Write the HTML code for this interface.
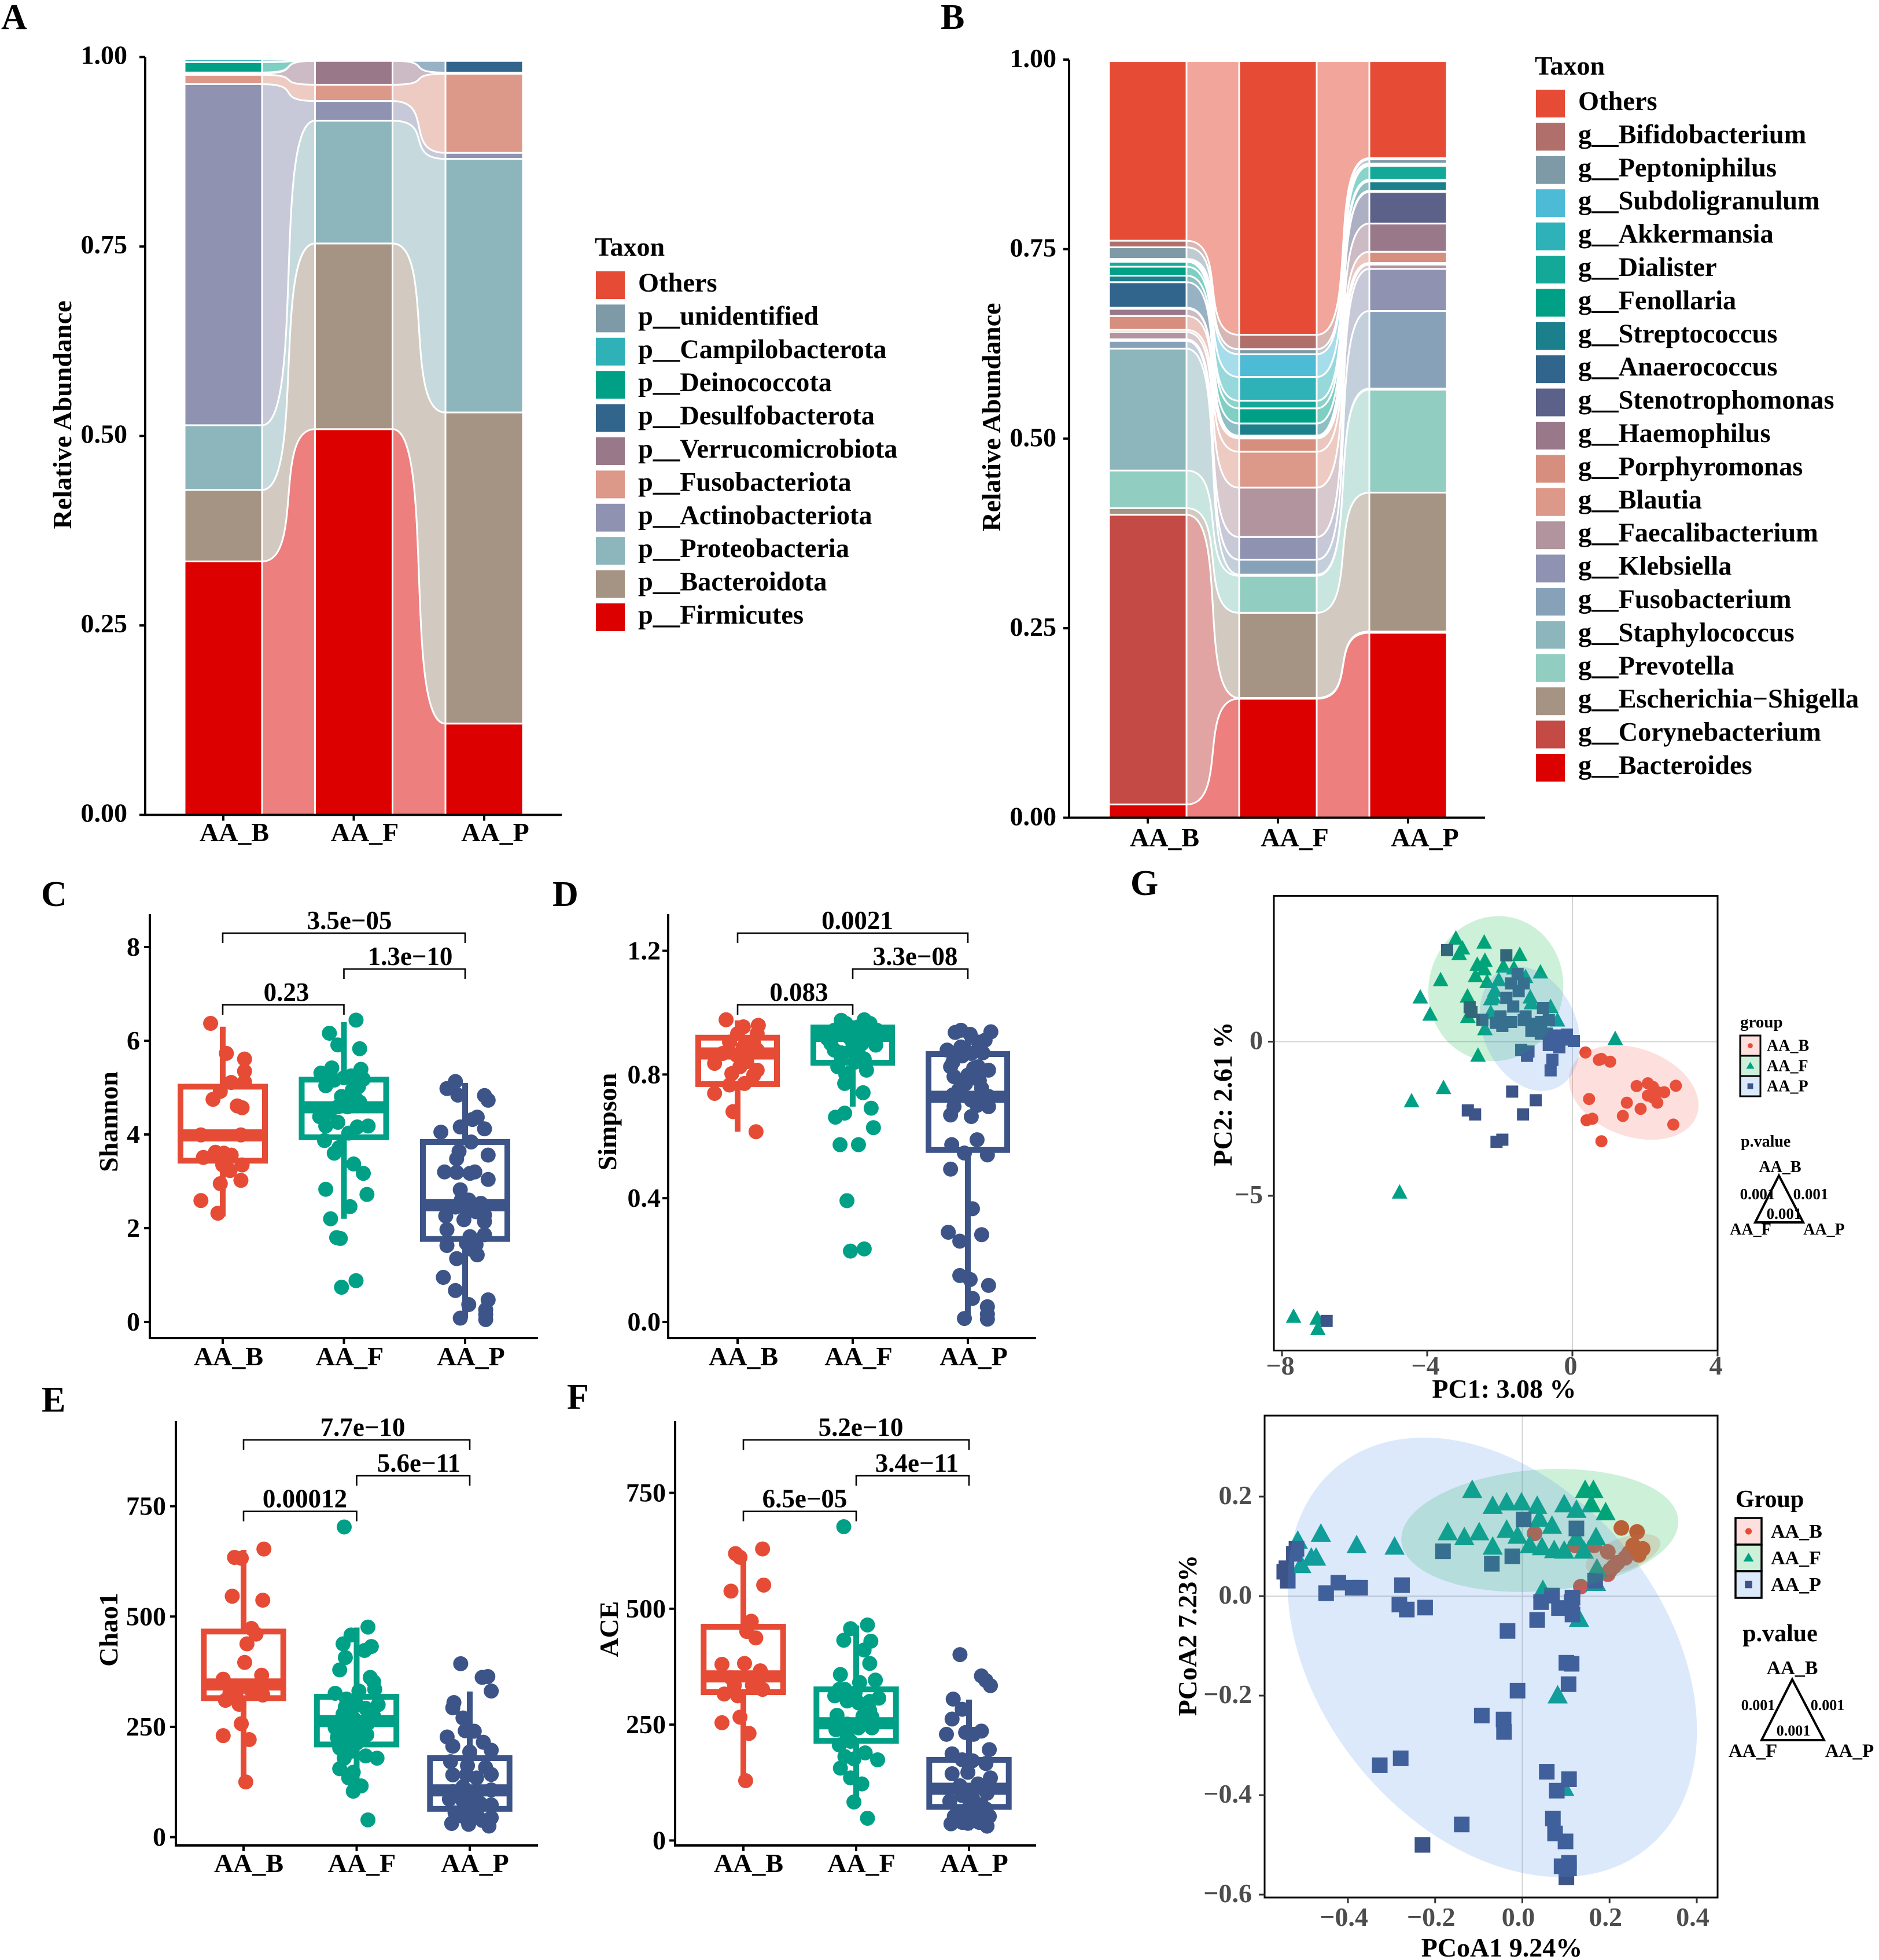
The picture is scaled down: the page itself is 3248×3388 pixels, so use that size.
<!DOCTYPE html>
<html lang="en">
<head>
<meta charset="utf-8">
<title>Microbiome composition and diversity panels</title>
<style>
html,body{margin:0;padding:0;background:#fff;}
svg{display:block;font-family:"Liberation Serif","Noto Serif CJK SC",serif;font-weight:bold;}
</style>
</head>
<body>
<svg id="figure" xmlns="http://www.w3.org/2000/svg" width="3248" height="3388" viewBox="0 0 3248 3388">
  <rect width="3248" height="3388" fill="#fff"/>
  <g font-size="62" fill="#000">
    <text x="2" y="50">A</text>
    <text x="1626" y="50">B</text>
    <text x="71" y="1566">C</text>
    <text x="955" y="1566">D</text>
    <text x="72" y="2440">E</text>
    <text x="980" y="2435">F</text>
    <text x="1954" y="1547">G</text>
  </g>
  <g id="panelA"></g>
  <g id="panelB"></g>
  <g id="panelC"></g>
  <g id="panelD"></g>
  <g id="panelE"></g>
  <g id="panelF"></g>
  <g id="panelG1"></g>
  <g id="panelG2"></g>
</svg>
<script>
/* ---------- shared categories ---------- */
const groups = ["AA_B", "AA_F", "AA_P"];
const relTicks = [0, 0.25, 0.5, 0.75, 1];
const relTickLabels = ["0.00", "0.25", "0.50", "0.75", "1.00"];

/* ---------- panel A: phylum abundance (bottom of stack first) ---------- */
const phylumTaxa = ["p__Firmicutes","p__Bacteroidota","p__Proteobacteria","p__Actinobacteriota","p__Fusobacteriota","p__Verrucomicrobiota","p__Desulfobacterota","p__Deinococcota","p__Campilobacterota","p__unidentified","Others"];
const phylumColors = ["#DC0000","#A59383","#8DB6BC","#8F93B1","#DC9888","#99788A","#32658C","#00A087","#2FB1B8","#7E9AA6","#E64B35"];
const phylumAAB = [.3345,.0943,.0854,.45,.0124,.002,.001,.0138,.0036,.001,.001];
const phylumAAF = [.509,.245,.162,.026,.0215,.0315,0,0,0,.001,.001];
const phylumAAP = [.1205,.4105,.3346,.008,.1044,.0015,.0155,0,0,.001,.001];

/* ---------- panel B: genus abundance (bottom of stack first) ---------- */
const genusTaxa = ["g__Bacteroides","g__Corynebacterium","g__Escherichia\u2212Shigella","g__Prevotella","g__Staphylococcus","g__Fusobacterium","g__Klebsiella","g__Faecalibacterium","g__Blautia","g__Porphyromonas","g__Haemophilus","g__Stenotrophomonas","g__Anaerococcus","g__Streptococcus","g__Fenollaria","g__Dialister","g__Akkermansia","g__Subdoligranulum","g__Peptoniphilus","g__Bifidobacterium","Others"];
const genusColors = ["#DC0000","#C44A45","#A59383","#91CDC0","#8DB6BC","#87A2B8","#8F93B1","#B1949D","#DC9888","#D68E7E","#99788A","#5B6188","#32658C","#1B7F8C","#00A087","#14A898","#2FB1B8","#4DBBD5","#7E9AA6","#B06F6A","#E64B35"];
const genusAAB = [.0175,.3821,.0087,.0497,.1607,.0103,.002,.0096,.0029,.0183,.0095,.0014,.0337,.0086,.0118,.0066,.0022,.0014,.0154,.0087,.2369];
const genusAAF = [.157,.001,.1123,.0489,.0015,.0197,.0299,.0651,.0474,.0176,.001,.001,.0016,.016,.02,.01,.0314,.03,.0066,.019,.361];
const genusAAP = [.244,.0016,.1832,.1358,.0014,.1024,.0555,.0058,.002,.0148,.0373,.0416,.0015,.0124,.0022,.0182,.0015,.0015,.0058,.0015,.128];

/* ---------- panel C: Shannon ---------- */
const shannonTicks = [0, 2, 4, 6, 8];
const shannonBox = [[3.44,3.98,5.02,2.25,6.3],[3.94,4.58,5.17,2.2,6.4],[1.77,2.49,3.84,0.08,5.1]];
const shannonB = [6.37,5.73,5.61,5.35,5.11,5.12,4.92,4.75,4.61,4.57,3.99,3.99,3.51,3.62,3.56,3.6,3.35,3.23,3.35,2.95,3.02,2.59,2.32];
const shannonBJitter = [-.10,.03,.18,.18,.07,.18,-.02,-.08,.12,.16,-.18,.15,-.16,-.06,.07,.01,0,.06,.16,-.02,.15,-.18,-.04];
const shannonF = [6.44,6.16,5.91,5.83,5.31,5.42,5.39,5.04,5.02,5.21,5.18,4.81,4.69,4.59,4.38,4.51,4.26,4.18,4.59,4.18,4.16,4.03,3.87,3.6,3.72,3.37,3.17,2.83,2.72,2.46,2.2,1.8,1.78,.88,.74,4.47,4.72,4.95,5.16,4.8,5.25,5.25];
const shannonFJitter = [.10,-.12,-.05,.13,-.19,-.1,.14,-.15,.12,0,.16,-.02,.13,.03,-.2,-.13,-.05,-.15,-.05,.2,.11,.04,-.16,-.08,-.04,.08,.16,-.15,.19,.05,-.11,-.06,-.03,.1,-.02,-.12,0,.07,-.08,.09,-.15,.06];
const shannonP = [5.13,4.98,4.84,4.05,4.16,4.32,3.64,3.48,3.2,3.19,3.17,2.82,2.61,2.26,2.18,1.97,1.63,1.35,.95,.67,.08,4.83,4.73,4.37,4.12,3.84,3.56,3.2,3.04,2.53,2.39,2.28,2.14,1.82,1.86,1.68,1.43,.47,.37,.26,.05,.16,2.46,2.6,2.5,2.35,2.45,1.75,1.65,1.55];
const shannonPJitter = [-.08,-.15,-.06,-.2,-.04,.06,-.05,-.07,-.17,-.07,.04,-.04,-.03,-.16,-.01,-.15,-.15,-.07,-.18,-.08,-.04,.16,.19,.1,.16,.05,.19,.08,.19,.13,.01,.16,.16,.04,.16,.01,.1,.19,.03,.17,.17,.17,.1,.03,.06,.09,-.08,.06,.09,.05];
const shannonP_values = ["3.5e\u221205","1.3e\u221210","0.23"];

/* ---------- panel D: Simpson ---------- */
const simpsonTicks = [0, 0.4, 0.8, 1.2];
const simpsonTickLabels = ["0.0", "0.4", "0.8", "1.2"];
const simpsonBox = [[.769,.868,.919,.615,.975],[.838,.925,.952,.696,.975],[.556,.728,.866,.01,.943]];
const simpsonB = [.977,.954,.959,.932,.932,.905,.9,.889,.879,.868,.863,.836,.825,.814,.803,.798,.739,.766,.771,.68,.615,.841];
const simpsonBJitter = [-.1,.05,.18,0,.17,-.07,.14,.05,.17,-.13,-.01,-.2,.02,.17,-.05,.14,-.2,-.07,.06,-.04,.16,.08];
const simpsonF = [.975,.977,.965,.965,.943,.943,.943,.9,.911,.895,.879,.868,.857,.879,.825,.814,.803,.771,.741,.675,.691,.662,.628,.573,.573,.392,.236,.229,.916,.927,.927,.954,.95,.92,.9,.87,.85,.84,.8];
const simpsonFJitter = [-.1,.1,-.06,.15,-.16,-.01,.21,-.19,-.01,.2,-.16,.05,-.1,-.01,-.13,.12,-.04,-.07,.09,-.07,.16,-.15,.18,-.11,.05,-.05,.1,-.02,-.22,-.04,.12,.05,.03,-.03,.08,-.1,.1,.02,-.06];
const simpsonP = [.936,.943,.938,.905,.889,.879,.911,.868,.825,.825,.814,.793,.798,.755,.734,.717,.696,.669,.664,.573,.589,.54,.546,.494,.366,.29,.282,.261,.15,.137,.118,.076,.049,.025,.011,.009,.696,.729,.86,.82,.78,.75,.72,.84,.93,.87,.77,.7];
const simpsonPJitter = [-.11,-.06,.2,.09,-.06,-.18,.15,.03,-.15,.09,.18,-.12,0,.12,-.13,.03,.18,-.15,.03,-.14,.08,.17,-.03,-.15,.04,-.17,.12,-.07,-.07,.02,.18,.04,.17,.17,-.03,.17,-.12,.18,-.05,.05,.1,-.08,.12,-.13,.02,.13,-.02,.08];
const simpsonP_values = ["0.0021","3.3e\u221208","0.083"];

/* ---------- panel E: Chao1 ---------- */
const chaoTicks = [0, 250, 500, 750];
const chaoBox = [[315,346,466,125,651],[210,263,318,104,475],[64,106,179,25,330]];
const chaoB = [653,634,632,546,537,473,460,438,396,358,367,331,310,301,322,335,257,230,221,125,327,330];
const chaoBJitter = [.18,-.08,-.02,-.1,.17,.07,.11,.03,.01,-.18,.16,-.06,-.16,-.04,.17,.06,-.02,-.18,.05,.02,-.12,.13];
const chaoF = [703,476,458,438,432,423,407,379,362,352,335,326,331,313,300,295,300,292,274,270,261,265,248,248,232,234,226,222,213,202,195,184,179,179,155,147,134,116,104,39,248,279,258];
const chaoFJitter = [-.11,.1,-.05,-.12,.13,.07,-.1,-.15,.12,.15,.16,-.19,.02,-.09,.19,-.1,0,.08,.15,-.03,.05,-.09,-.19,-.05,.09,.02,-.17,-.09,0,-.15,-.04,.08,-.11,.18,-.15,-.03,-.07,.04,-.03,.1,-.12,-.12,.1];
const chaoP = [393,362,364,331,305,293,270,241,240,227,215,206,197,193,171,162,158,141,142,114,103,107,86,82,77,73,55,55,31,29,25,44,141,134,103,82,47,38];
const chaoPJitter = [-.08,.11,.16,.19,-.14,-.15,-.06,-.04,.04,-.2,.12,-.15,.19,0,-.17,-.02,.14,-.15,.19,-.06,.06,.19,-.18,-.06,.09,.19,-.13,.06,-.16,-.01,.17,.19,-.03,.06,-.15,.04,-.06,.11];
const chaoP_values = ["7.7e\u221210","5.6e\u221211","0.00012"];

/* ---------- panel F: ACE ---------- */
const aceTicks = [0, 250, 500, 750];
const aceBox = [[320,354,461,128,615],[215,253,326,83,464],[72.5,111.6,174,22,304]];
const aceB = [629,619,611,538,551,473,451,437,380,382,366,335,316,312,326,335,254,266,231,129,351,347];
const aceBJitter = [.17,-.07,-.03,-.11,.18,.07,.03,.11,-.19,.01,.15,-.08,-.17,-.05,.17,.08,-.19,-.03,.05,.02,-.11,.13];
const aceF = [677,465,457,432,430,411,382,358,346,341,326,312,307,301,297,300,280,270,266,239,251,243,243,206,214,189,174,181,176,156,135,122,83,48,225,255,268,326,318];
const aceFJitter = [-.11,.10,-.05,-.11,.13,.07,.12,-.14,.17,.03,-.15,-.19,.2,-.08,.02,.12,.12,-.17,.14,-.18,-.08,.02,.14,-.15,-.05,.08,.19,-.1,-.02,-.14,-.05,.05,-.02,.1,-.08,-.15,.06,-.1,-.01];
const aceP = [401,355,345,334,305,283,262,229,233,236,229,196,187,174,172,166,144,147,135,122,118,85,97,93,102,77,68,52,52,48,36,37,31,60,60,39,39,68];
const acePJitter = [-.08,.11,.15,.19,-.14,-.06,-.15,-.2,-.03,.11,.04,.18,-.15,-.06,.03,.15,-.15,-.01,.19,.08,-.08,-.17,-.06,.03,.16,.11,-.01,-.13,.18,.01,-.16,-.01,.16,.08,-.08,-.06,.09,.15];
const aceP_values = ["5.2e\u221210","3.4e\u221211","6.5e\u221205"];

/* ---------- panel G top: PCA ---------- */
const pcaXTicks = [-8, -4, 0, 4];
const pcaYTicks = [-5, 0];
const pc1B = [.36,.8,.73,1.04,1.77,2.08,2.22,2.85,2.53,2.08,2.35,2.22,.46,1.5,2.34,1.88,1.39,.39,.55,2.78,.8];
const pc2B = [-.35,-.56,-.59,-.65,-1.44,-1.35,-1.47,-1.43,-1.64,-1.75,-1.64,-1.81,-1.86,-1.98,-1.98,-2.18,-2.41,-2.55,-2.5,-2.69,-3.23];
const pc1F = [-3.21,-3.03,-3.12,-2.43,-1.45,-2.62,-2.41,-2.67,-2.43,-3.63,-4.19,-3.92,-2.89,-2.35,-1.90,-1.61,-.88,-1.29,-2.14,-2.25,-2.25,-1.16,-1.13,-.60,-.41,-2.41,-2.88,-2.60,-3.55,-2.03,-2.17,1.18,-4.43,-4.76,-7.68,-7.03,-7.01];
const pc2F = [3.36,3.04,2.86,3.23,2.83,2.51,2.64,2.14,2.36,2.01,1.45,.89,1.48,1.95,2.45,2.39,2.26,2.11,1.67,1.39,.95,1.45,1.26,1.14,.70,.42,.82,-.44,-1.49,2.01,1.45,.1,-1.92,-4.88,-8.91,-8.97,-9.31];
const pc1P = [-3.45,-1.82,-1.51,-1.69,-1.34,-1.48,-2.83,-2.78,-2.48,-1.82,-1.63,-1.98,-2.11,-1.93,-1.69,-1.29,-1.13,-.81,-.86,-.65,-.70,-.44,-.15,.04,-.65,-.36,-1.41,-1.21,-1.25,-.55,-.60,-1.66,-1.08,-1.34,-.17,-.87,-.33,-1.01,-2.88,-2.68,-1.36,-1.93,-2.09,-6.77];
const pc2P = [2.97,2.80,2.20,1.89,1.89,1.64,1.12,.96,.71,1.42,1.14,.82,.61,.51,.64,.82,.35,1.09,.64,.70,.26,.2,.23,.02,-.11,-.18,-.27,-.32,-.46,-.59,-.93,-1.62,.58,.7,.07,.26,.07,-1.9,-2.23,-2.36,-2.36,-3.18,-3.25,-9.06];
const pcaEllipseCenterX = [1.69, -2.11, -1.17];
const pcaEllipseCenterY = [-1.65, 1.72, .42];

/* ---------- panel G bottom: PCoA ---------- */
const pcoaXTicks = [-.4, -.2, 0, .2, .4];
const pcoaYTicks = [-.6, -.4, -.2, 0, .2];
const pco1B = [.227,.263,.254,.276,.267,.196,.236,.21,.201,.196,.134,.121,.165,.028,.218,.245];
const pco2B = [.137,.129,.102,.095,.083,.089,.077,.06,.052,.044,.019,.102,.102,.126,.067,.087];
const pco1F = [-.115,.144,.163,.158,.191,-.068,-.036,-.002,.034,.096,.124,.039,.068,-.036,-.171,-.133,-.099,-.011,.169,-.462,-.515,-.38,-.293,-.068,.017,.045,.073,.096,.141,.124,-.484,-.473,-.507,.171,.169,.047,.13,.081,.096];
const pco2F = [.214,.214,.214,.185,.169,.182,.189,.189,.182,.185,.174,.156,.142,.134,.129,.119,.129,.122,.119,.126,.112,.103,.1,.1,.103,.099,.093,.092,.092,.117,.078,.078,.063,.056,.027,.013,-.045,-.199,-.385];
const pco1P = [-.518,-.524,-.541,-.546,-.538,-.422,-.389,-.372,-.45,-.276,-.282,-.265,-.223,-.182,-.07,-.023,.003,.124,.167,.043,.068,.115,.084,.115,.034,-.034,.101,.113,.106,-.011,-.093,-.043,-.042,-.279,-.327,.056,.107,.079,.07,.075,.099,-.139,-.229,.107,.09,.101,.107,.113];
const pco2P = [.095,.085,.056,.049,.031,.027,.017,.017,.006,.022,-.017,-.027,-.023,.09,.065,.08,.154,.136,.031,-.012,.001,-.003,-.024,-.037,-.048,-.07,-.134,-.136,-.177,-.19,-.24,-.248,-.273,-.326,-.34,-.353,-.368,-.391,-.447,-.477,-.493,-.459,-.5,-.536,-.543,-.565,-.547,-.012];
const pcoaEllipseCenterX = [.231, .04, -.069];
const pcoaEllipseCenterY = [.084, .132, -.123];

/* ---------- helpers ---------- */
const NS = "http://www.w3.org/2000/svg";
const groupColors = ["#E64B35", "#00A087", "#3C5488"];
const linear = (d0, d1, r0, r1) => v => r0 + (v - d0) * (r1 - r0) / (d1 - d0);
function mk(tag, attrs, parent) {
  const e = document.createElementNS(NS, tag);
  for (const k in attrs) e.setAttribute(k, attrs[k]);
  parent.appendChild(e);
  return e;
}
function txt(str, x, y, size, anchor, parent, fill) {
  const e = mk("text", {x: x, y: y, "font-size": size, "text-anchor": anchor, fill: fill || "#000"}, parent);
  e.textContent = str;
  return e;
}
function vtxt(str, x, y, size, parent) {
  const e = mk("text", {x: x, y: y, "font-size": size, "text-anchor": "middle", fill: "#000", transform: "rotate(-90 " + x + " " + y + ")"}, parent);
  e.textContent = str;
  return e;
}
const slug = s => String(s).toLowerCase().replace(/[^a-z0-9]+/g, "-").replace(/^-|-$/g, "");

/* ---------- axes for classic panels ---------- */
function classicAxes(parent, ax, ticks, labels, yScale, xScale) {
  const yAxis = mk("line", {x1: ax.x0, x2: ax.x0, y1: ax.yTop, y2: ax.yBottom + 2, stroke: "#000", "stroke-width": 4}, parent);
  
  
  const xAxis = mk("line", {x1: ax.x0 - 2, x2: ax.x1, y1: ax.yBottom, y2: ax.yBottom, stroke: "#000", "stroke-width": 4}, parent);
  
  
  ticks.forEach((t, i) => {
    const mark = mk("line", {x1: ax.x0 - 10, x2: ax.x0, y1: yScale(t), y2: yScale(t), stroke: "#000", "stroke-width": 4}, parent);
    
    
    const lab = txt(labels[i], ax.tickRight, yScale(t) + ax.tickDy, 46, "end", parent);
    
    
  });
  groups.forEach((g, i) => {
    const px = xScale(i);
    const mark = mk("line", {x1: px, x2: px, y1: ax.yBottom, y2: ax.yBottom + 10, stroke: "#000", "stroke-width": 4}, parent);
    
    
    const lab = txt(g, px + ax.labelShift, ax.labelY, 46, "middle", parent);
    
    
  });
}

/* ---------- alluvial ---------- */
function alluvial(parent, ax, taxa, colors, stackValues, legend) {
  const y = linear(0, 1, ax.yBottom, ax.y1);
  const x = linear(0, 2, ax.c0, ax.c2);
  const half = ax.barHalf;
  const stacks = stackValues.map(vals => {
    let c = 0;
    return vals.map(v => { const lo = c; c += v; return [lo, c]; });
  });
  const K = 0.8;
  taxa.forEach((name, t) => {
    for (let g = 0; g < 2; g++) {
      const a = stacks[g][t], b = stacks[g + 1][t];
      if (a[1] - a[0] <= 0 && b[1] - b[0] <= 0) continue;
      const xa = x(g) + half, xb = x(g + 1) - half, w = xb - xa;
      const c1 = xa + K * w, c2 = xb - K * w;
      const d = "M" + xa + " " + y(a[0]) +
        "C" + c1 + " " + y(a[0]) + " " + c2 + " " + y(b[0]) + " " + xb + " " + y(b[0]) +
        "L" + xb + " " + y(b[1]) +
        "C" + c2 + " " + y(b[1]) + " " + c1 + " " + y(a[1]) + " " + xa + " " + y(a[1]) + "Z";
      const fl = mk("path", {d: d, fill: colors[t], "fill-opacity": .5, stroke: "#fff", "stroke-width": 3}, parent);
      
      
    }
  });
  taxa.forEach((name, t) => {
    groups.forEach((gn, g) => {
      const s = stacks[g][t];
      if (s[1] - s[0] <= 0) return;
      const bar = mk("rect", {x: x(g) - half, y: y(s[1]), width: 2 * half, height: y(s[0]) - y(s[1]), fill: colors[t], stroke: "#fff", "stroke-width": 3}, parent);
      
      
    });
  });
  classicAxes(parent, ax, relTicks, relTickLabels, y, x);
  const yt = vtxt("Relative Abundance", ax.titleX, ax.titleY, 46, parent);
  
  
  const lt = txt("Taxon", legend.x, legend.titleY, 46, "start", parent);
  
  
  const n = taxa.length;
  for (let t = n - 1; t >= 0; t--) {
    const row = n - 1 - t;
    const cy = legend.firstY + row * 57.4;
    const sw = mk("rect", {x: legend.x + 2, y: cy - 24, width: 50, height: 48, fill: colors[t]}, parent);
    
    
    const lb = txt(taxa[t], legend.x + 75, cy + legend.textDy, 46.4, "start", parent);
    
    
  }
}

/* ---------- box plot ---------- */
function boxPanel(parent, ax, ticks, labels, box, pointSets, jitterSets, pvals, title) {
  const y = linear(ticks[0], ticks[ticks.length - 1], ax.yZero, ax.yMax);
  const x = linear(0, 2, ax.c0, ax.c2);
  const unit = (ax.c2 - ax.c0) / 2;
  groups.forEach((g, i) => {
    const c = groupColors[i], px = x(i), s = box[i];
    const hi = mk("line", {x1: px, x2: px, y1: y(s[2]), y2: y(s[4]), stroke: c, "stroke-width": 10}, parent);
    
    
    const lo = mk("line", {x1: px, x2: px, y1: y(s[0]), y2: y(s[3]), stroke: c, "stroke-width": 10}, parent);
    
    
    const rc = mk("rect", {x: px - ax.boxHalf, y: y(s[2]), width: 2 * ax.boxHalf, height: y(s[0]) - y(s[2]), fill: "none", stroke: c, "stroke-width": 10}, parent);
    
    
    const md = mk("line", {x1: px - ax.boxHalf, x2: px + ax.boxHalf, y1: y(s[1]), y2: y(s[1]), stroke: c, "stroke-width": 21}, parent);
    
    
    pointSets[i].forEach((v, k) => {
      const pt = mk("circle", {cx: px + (jitterSets[i][k] || 0) * unit, cy: y(v), r: 13, fill: c}, parent);
      
      
    });
  });
  classicAxes(parent, ax, ticks, labels, y, x);
  const yt = vtxt(title, ax.titleX, ax.titleY, 46, parent);
  
  
  const pairs = [[0, 2], [1, 2], [0, 1]];
  pairs.forEach((p, i) => {
    const by = ax.brackets[i], xa = x(p[0]), xb = x(p[1]);
    const br = mk("path", {d: "M" + xa + " " + (by + 17) + "V" + by + "H" + xb + "V" + (by + 17), fill: "none", stroke: "#000", "stroke-width": 2.6}, parent);
    
    
    const lb = txt(pvals[i], ax.pX[i], by - 7, 45, "middle", parent);
    
    
  });
}

/* ---------- scatter ---------- */
function drawScatter(parent, ax, sx, sy, sets, ell, sizes, xTicks, yTicks, fmt) {
  [[sx(0), ax.top, sx(0), ax.bottom], [ax.left, sy(0), ax.right, sy(0)]].forEach(l => {
    const z = mk("line", {x1: l[0], y1: l[1], x2: l[2], y2: l[3], stroke: "#d4d4d4", "stroke-width": 2}, parent);
    
    
  });
  sets[0].x.forEach((v, i) => {
    const c = mk("circle", {cx: sx(v), cy: sy(sets[0].y[i]), r: sizes.r, fill: groupColors[0]}, parent);
    
    
  });
  sets[1].x.forEach((v, i) => {
    const px = sx(v), py = sy(sets[1].y[i]);
    const pts = px + "," + (py - sizes.triH * .55) + " " + (px + sizes.triW / 2) + "," + (py + sizes.triH * .45) + " " + (px - sizes.triW / 2) + "," + (py + sizes.triH * .45);
    const t = mk("polygon", {points: pts, fill: groupColors[1]}, parent);
    
    
  });
  sets[2].x.forEach((v, i) => {
    const s = mk("rect", {x: sx(v) - sizes.sq / 2, y: sy(sets[2].y[i]) - sizes.sq / 2, width: sizes.sq, height: sizes.sq, fill: groupColors[2]}, parent);
    
    
  });
  ell.forEach((e, i) => {
    const cx = sx(e.cx), cy = sy(e.cy);
    const el = mk("ellipse", {cx: cx, cy: cy, rx: e.a, ry: e.b, fill: e.fill, "fill-opacity": .2, transform: "rotate(" + e.angle + " " + cx + " " + cy + ")"}, parent);
    
    
  });
  const frame = mk("rect", {x: ax.left, y: ax.top, width: ax.right - ax.left, height: ax.bottom - ax.top, fill: "none", stroke: "#000", "stroke-width": 3}, parent);
  
  
  xTicks.forEach(t => {
    const m = mk("line", {x1: sx(t), x2: sx(t), y1: ax.bottom, y2: ax.bottom + 10, stroke: "#333", "stroke-width": 3}, parent);
    
    
    const l = txt(fmt(t), sx(t) + ax.xLabelShift, ax.xLabelY, 46, "middle", parent, "#4d4d4d");
    
    
  });
  yTicks.forEach(t => {
    const m = mk("line", {x1: ax.left - 10, x2: ax.left, y1: sy(t), y2: sy(t), stroke: "#333", "stroke-width": 3}, parent);
    
    
    const l = txt(fmt(t), ax.yLabelRight, sy(t) + 13, 46, "end", parent, "#4d4d4d");
    
    
  });
}
function scatterLegend(parent, o) {
  const pale = ["#fde0dd", "#cdf0d8", "#dce9fb"];
  const title = txt(o.title, o.x, o.titleY, o.titleSize, "start", parent);
  
  
  groups.forEach((g, i) => {
    const y0 = o.keyY + i * o.key, cx = o.x + o.keyW / 2, cy = y0 + o.key / 2;
    const k = mk("rect", {x: o.x, y: y0, width: o.keyW, height: o.key, fill: pale[i], stroke: "#000", "stroke-width": o.stroke}, parent);
    
    
    let m;
    if (i === 0) m = mk("circle", {cx: cx, cy: cy, r: o.marker * .62, fill: groupColors[0]}, parent);
    if (i === 1) m = mk("polygon", {points: cx + "," + (cy - o.marker) + " " + (cx + o.marker) + "," + (cy + o.marker * .7) + " " + (cx - o.marker) + "," + (cy + o.marker * .7), fill: groupColors[1]}, parent);
    if (i === 2) m = mk("rect", {x: cx - o.marker * .7, y: cy - o.marker * .7, width: o.marker * 1.4, height: o.marker * 1.4, fill: groupColors[2]}, parent);
    
    
    const l = txt(g, o.x + o.keyW + o.labelGap, cy + o.labelSize * .33, o.labelSize, "start", parent);
    
    
  });
  const pv = txt("p.value", o.pX, o.pY, o.pSize, o.pAnchor, parent);
  
  
  const tr = mk("polygon", {points: o.tri.join(" "), fill: "none", stroke: "#000", "stroke-width": 4}, parent);
  
  
  o.texts.forEach(t => {
    const e = txt(t[0], t[1], t[2], t[3], "middle", parent);
    
    
  });
}

/* ---------- render ---------- */
alluvial(document.getElementById("panelA"),
  {x0: 251, x1: 971, y1: 98.6, yTop: 98.6, yBottom: 1408.6, c0: 386, c2: 837, barHalf: 67, tickRight: 220, tickDy: 12, labelShift: 19, labelY: 1454, titleX: 123, titleY: 717},
  phylumTaxa, phylumColors, [phylumAAB, phylumAAF, phylumAAP],
  {x: 1028, titleY: 442, firstY: 493, textDy: 11});

alluvial(document.getElementById("panelB"),
  {x0: 1848, x1: 2567, y1: 103, yTop: 103, yBottom: 1413.5, c0: 1984, c2: 2434, barHalf: 67, tickRight: 1826, tickDy: 13, labelShift: 29, labelY: 1463, titleX: 1729, titleY: 721},
  genusTaxa, genusColors, [genusAAB, genusAAF, genusAAP],
  {x: 2653, titleY: 129, firstY: 179, textDy: 11});

boxPanel(document.getElementById("panelC"),
  {x0: 259, x1: 930, yTop: 1580, yBottom: 2313, yZero: 2285, yMax: 1637, c0: 385, c2: 804, boxHalf: 73, tickRight: 242, tickDy: 15, labelShift: 10, labelY: 2360, titleX: 203, titleY: 1939, brackets: [1613, 1675, 1737], pX: [604, 709, 495]},
  shannonTicks, shannonTicks.map(String), shannonBox,
  [shannonB, shannonF, shannonP], [shannonBJitter, shannonFJitter, shannonPJitter], shannonP_values, "Shannon");

boxPanel(document.getElementById("panelD"),
  {x0: 1155, x1: 1791, yTop: 1580, yBottom: 2313, yZero: 2285, yMax: 1643.5, c0: 1275, c2: 1673, boxHalf: 68, tickRight: 1142, tickDy: 15, labelShift: 10, labelY: 2360, titleX: 1065, titleY: 1939, brackets: [1613, 1675, 1737], pX: [1482, 1582, 1381]},
  simpsonTicks, simpsonTickLabels, simpsonBox,
  [simpsonB, simpsonF, simpsonP], [simpsonBJitter, simpsonFJitter, simpsonPJitter], simpsonP_values, "Simpson");

boxPanel(document.getElementById("panelE"),
  {x0: 304, x1: 930, yTop: 2456, yBottom: 3190, yZero: 3175.6, yMax: 2603.6, c0: 421, c2: 812, boxHalf: 68.7, tickRight: 287, tickDy: 15, labelShift: 9, labelY: 3236, titleX: 203, titleY: 2817, brackets: [2489, 2551, 2612.6], pX: [627, 724, 527]},
  chaoTicks, chaoTicks.map(String), chaoBox,
  [chaoB, chaoF, chaoP], [chaoBJitter, chaoFJitter, chaoPJitter], chaoP_values, "Chao1");

boxPanel(document.getElementById("panelF"),
  {x0: 1167, x1: 1791, yTop: 2456, yBottom: 3190, yZero: 3181.4, yMax: 2580.5, c0: 1285, c2: 1675, boxHalf: 68.7, tickRight: 1151, tickDy: 15, labelShift: 9, labelY: 3236, titleX: 1068, titleY: 2816, brackets: [2489, 2551, 2612.6], pX: [1488, 1585, 1391]},
  aceTicks, aceTicks.map(String), aceBox,
  [aceB, aceF, aceP], [aceBJitter, aceFJitter, acePJitter], aceP_values, "ACE");

const ellipseFill = ["rgb(245,100,85)", "rgb(5,180,60)", "rgb(80,145,235)"];
const minus = t => String(t).replace("-", "\u2212");

(function () {
  const p = document.getElementById("panelG1");
  const ax = {left: 2202, right: 2969, top: 1548.5, bottom: 2334.5, xLabelShift: -3, xLabelY: 2376, yLabelRight: 2183};
  const sx = linear(-8, 4, 2216, 2969);
  const sy = linear(-5, 0, 2067, 1800.6);
  const ell = [
    {cx: pcaEllipseCenterX[0], cy: pcaEllipseCenterY[0], a: 116, b: 76, angle: 20, fill: ellipseFill[0]},
    {cx: pcaEllipseCenterX[1], cy: pcaEllipseCenterY[1], a: 126, b: 116, angle: -75, fill: ellipseFill[1]},
    {cx: pcaEllipseCenterX[2], cy: pcaEllipseCenterY[2], a: 112, b: 81, angle: 66, fill: ellipseFill[2]}
  ];
  drawScatter(p, ax, sx, sy, [{x: pc1B, y: pc2B}, {x: pc1F, y: pc2F}, {x: pc1P, y: pc2P}], ell, {r: 10.5, triW: 27, triH: 25, sq: 21}, pcaXTicks, pcaYTicks, minus);
  const xt = txt("PC1: 3.08 %", 2600, 2416, 46, "middle", p);
  
  
  const yt = vtxt("PC2: 2.61 %", 2129, 1891, 46, p);
  
  
  scatterLegend(p, {title: "group", x: 3008, titleY: 1776, titleSize: 29, keyY: 1790, key: 35, keyW: 35, stroke: 3, marker: 7, labelGap: 11, labelSize: 28,
    pX: 3009, pY: 1982, pSize: 28, pAnchor: "start",
    tri: ["3075,2032", "3034,2113", "3117,2113"],
    texts: [["AA_B", 3077, 2026, 28], ["0.001", 3038, 2073, 27], ["0.001", 3130, 2073, 27], ["0.001", 3084, 2107, 27], ["AA_F", 3026, 2134, 28], ["AA_P", 3153, 2134, 28]]});
})();

(function () {
  const p = document.getElementById("panelG2");
  const ax = {left: 2186, right: 2969, top: 2447, bottom: 3280, xLabelShift: -7, xLabelY: 3329, yLabelRight: 2164};
  const sx = linear(-.4, .4, 2330, 2933);
  const sy = linear(-.6, .2, 3275, 2587);
  const ell = [
    {cx: pcoaEllipseCenterX[0], cy: pcoaEllipseCenterY[0], a: 68, b: 28, angle: -20, fill: ellipseFill[0]},
    {cx: pcoaEllipseCenterX[1], cy: pcoaEllipseCenterY[1], a: 240, b: 105, angle: -4.4, fill: ellipseFill[1]},
    {cx: pcoaEllipseCenterX[2], cy: pcoaEllipseCenterY[2], a: 425, b: 298, angle: 51, fill: ellipseFill[2]}
  ];
  drawScatter(p, ax, sx, sy, [{x: pco1B, y: pco2B}, {x: pco1F, y: pco2F}, {x: pco1P, y: pco2P}], ell, {r: 13.5, triW: 35, triH: 32, sq: 27}, pcoaXTicks, pcoaYTicks, t => minus(t.toFixed(1)));
  const xt = txt("PCoA1 9.24%", 2596, 3382, 46, "middle", p);
  
  
  const yt = vtxt("PCoA2 7.23%", 2068, 2827, 46, p);
  
  
  scatterLegend(p, {title: "Group", x: 3000, titleY: 2605, titleSize: 42, keyY: 2624, key: 46, keyW: 45, stroke: 3.5, marker: 9, labelGap: 16, labelSize: 34,
    pX: 3077, pY: 2837, pSize: 42, pAnchor: "middle",
    tri: ["3098,2903", "3045,3008", "3153,3008"],
    texts: [["AA_B", 3098, 2894, 34], ["0.001", 3039, 2956, 26], ["0.001", 3159, 2956, 26], ["0.001", 3100, 3000, 26], ["AA_F", 3030, 3037, 33], ["AA_P", 3197, 3037, 33]]});
})();
</script>
</body>
</html>
